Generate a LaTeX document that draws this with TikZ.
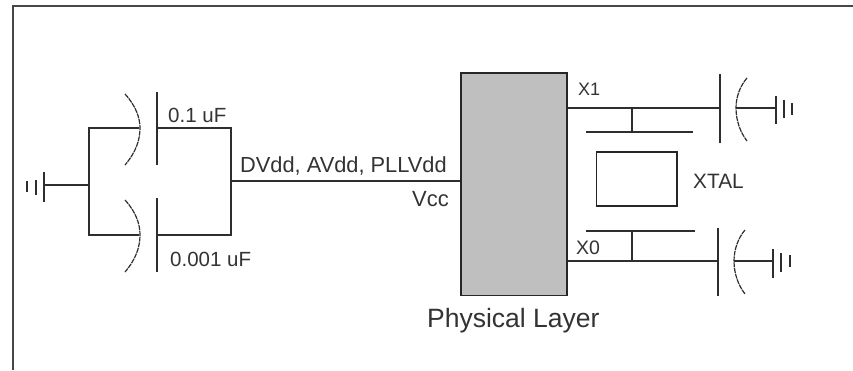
\documentclass[tikz,border=0pt]{standalone}
\usepackage{fontspec}
\setmainfont{Liberation Sans}
\tikzset{
  x=1pt,y=-1pt,
  wire/.style={line width=1.5pt,color=black!82},
  curved/.style={line width=1.2pt,color=black!82,dash pattern=on 5pt off 0.8pt},
  lab/.style={inner sep=0pt,anchor=base west,color=black!80,font=\fontsize{#1pt}{#1pt}\selectfont}
}
\begin{document}
\begin{tikzpicture}
\useasboundingbox (0,0) rectangle (853,370);
\fill[white] (0,0) rectangle (853,370);
\draw[line width=2pt,color=black!72] (12.5,370) -- (12.5,6) -- (853,6);
% physical layer
\node[draw=black!85,line width=1.5pt,fill=black!25,minimum width=106pt,minimum height=222.5pt,inner sep=0pt] (phy) at (514,184) {};
% left ground
\coordinate (gl) at (44,185);
\coordinate (gj) at (89,185);
\draw[wire] (44,172) -- (44,202);
\draw[wire] (36,180) -- (36,195);
\draw[wire] (27,181) -- (27,192);
\draw[wire] (gl) -- (gj);
\draw[wire] (139,128) -- (89,128) -- (89,235) -- (139,235);
\draw[curved] (125,94) .. controls (136,106) and (140,118) .. (140,128) .. controls (140,140) and (136,152) .. (125,165);
\draw[curved] (125,200) .. controls (136,212) and (140,224) .. (140,235) .. controls (140,247) and (136,259) .. (125,272);
\draw[wire] (157,92) -- (157,165);
\draw[wire] (157,198) -- (157,272);
\draw[wire] (157,128) -- (231,128) -- (231,235) -- (157,235);
\coordinate (vj) at (231,181);
\draw[wire] (vj) -- (phy.west |- vj);
% X1
\coordinate (x1) at (720,108);
\draw[wire] (phy.east |- x1) -- (x1);
\draw[wire] (720,74) -- (720,143);
\draw[curved] (747,78) .. controls (740,86) and (736,97) .. (736,108) .. controls (736,120) and (740,132) .. (747,141);
\draw[wire] (736,108) -- (776,108);
\draw[wire] (776,96) -- (776,124);
\draw[wire] (784,100) -- (784,118);
\draw[wire] (792,103) -- (792,115);
\draw[wire] (632,108) -- (632,132);
\draw[wire] (586,132) -- (693,132);
% crystal
\node[draw=black!85,line width=1.5pt,minimum width=80.5pt,minimum height=54pt,inner sep=0pt] (xtal) at (636.5,179) {};
% X0
\coordinate (x0) at (718,261);
\draw[wire] (phy.east |- x0) -- (x0);
\draw[wire] (718,228) -- (718,296);
\draw[curved] (745,230) .. controls (738,238) and (734,250) .. (734,261) .. controls (734,273) and (738,285) .. (745,294);
\draw[wire] (734,261) -- (773,261);
\draw[wire] (773,249) -- (773,278);
\draw[wire] (781,253) -- (781,272);
\draw[wire] (790,255) -- (790,267);
\draw[wire] (632,231) -- (632,261);
\draw[wire] (586,231) -- (695,231);
% labels
\node[lab=20.5] (c1) at (168,122) {0.1 uF};
\node[lab=20.5] (c2) at (170,266) {0.001 uF};
\node[lab=21.8] (pw) at (240,172) {DVdd, AVdd, PLLVdd};
\node[lab=22] (vcc) at (412,206) {Vcc};
\node[lab=18] (lx1) at (578,95) {X1};
\node[lab=19.5] (lx0) at (576,254) {X0};
\node[lab=20.8] (lxt) at (693,188) {XTAL};
\node[lab=26.5] (lphy) at (427,327) {Physical Layer};
\end{tikzpicture}
\end{document}
